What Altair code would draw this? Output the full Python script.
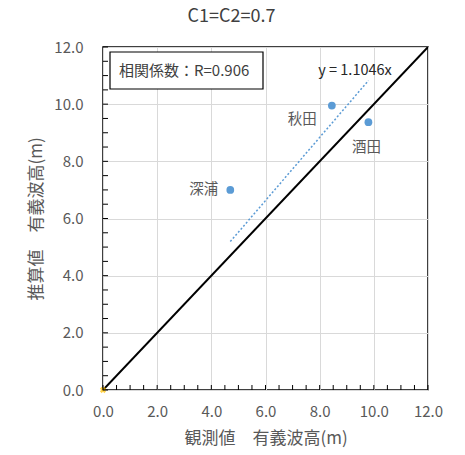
import altair as alt
import pandas as pd

# Observed vs. estimated significant wave height at three stations
stations = ["深浦", "秋田", "酒田"]
observed = [4.7, 8.45, 9.8]
estimated = [7.0, 9.95, 9.37]

slope = 1.1046
r_text = "相関係数：R=0.906"
fit_text = "y = 1.1046x"

major_ticks = [0, 2, 4, 6, 8, 10, 12]
minor_ticks = [i * 0.5 for i in range(0, 25)]

FONT = "Noto Sans CJK JP"
GRAY = "#595959"
BLUE = "#5b9bd5"
W, H = 325, 343

pts = pd.DataFrame({"name": stations, "obs": observed, "est": estimated})
diag = pd.DataFrame({"obs": [0, 12], "est": [0, 12]})
trend = pd.DataFrame({"obs": [min(observed), max(observed)],
                      "est": [slope * min(observed), slope * max(observed)]})
ticks = pd.DataFrame({"v": minor_ticks})

xs = alt.Scale(domain=[0, 12], nice=False)
ys = alt.Scale(domain=[0, 12], nice=False)

x_axis = alt.Axis(values=major_ticks, format=".1f", title="観測値　有義波高(m)",
                  labelPadding=14, titlePadding=11, grid=True, ticks=False, domain=False,
                  labelFlush=False, labelOverlap=False)
y_axis = alt.Axis(values=major_ticks, format=".1f", title="推算値　有義波高(m)",
                  labelPadding=20, titlePadding=8, grid=True, ticks=False, domain=False,
                  labelFlush=False, labelOverlap=False)

base_x = alt.X("obs:Q", scale=xs, axis=x_axis)
base_y = alt.Y("est:Q", scale=ys, axis=y_axis)

diag_line = alt.Chart(diag).mark_line(color="black", strokeWidth=2, clip=True).encode(
    x=base_x, y=base_y)

trend_line = alt.Chart(trend).mark_line(color=BLUE, strokeWidth=1.5, strokeDash=[2, 2]).encode(
    x=alt.X("obs:Q", scale=xs), y=alt.Y("est:Q", scale=ys))

points = alt.Chart(pts).mark_circle(color=BLUE, size=60, opacity=1).encode(
    x=alt.X("obs:Q", scale=xs), y=alt.Y("est:Q", scale=ys))

origin = alt.Chart(pd.DataFrame({"obs": [0], "est": [0]})).mark_point(
    shape="cross", angle=45, color="#ffc000", size=40, filled=True, clip=False
).encode(x=alt.X("obs:Q", scale=xs), y=alt.Y("est:Q", scale=ys))

def station_label(name, dx, dy, align):
    return alt.Chart(pts).transform_filter(alt.datum.name == name).mark_text(
        font=FONT, fontSize=14.5, color=GRAY, align=align, baseline="middle", dx=dx, dy=dy
    ).encode(x=alt.X("obs:Q", scale=xs), y=alt.Y("est:Q", scale=ys), text="name:N")

labels = (station_label("深浦", -12, 0, "right")
          + station_label("秋田", -15, 14, "right")
          + station_label("酒田", -2, 26, "center"))

# inside tick marks along the bottom and left edges
x_minor = alt.Chart(ticks).mark_rule(color="black", strokeWidth=1).encode(
    x=alt.X("v:Q", scale=xs), y=alt.value(H), y2=alt.value(H - 5))
y_minor = alt.Chart(ticks).mark_rule(color="black", strokeWidth=1).encode(
    y=alt.Y("v:Q", scale=ys), x=alt.value(0), x2=alt.value(5))

box = alt.Chart(pd.DataFrame({"t": [r_text]})).mark_rect(
    fill="white", stroke="black", strokeWidth=1.2
).encode(x=alt.value(7), x2=alt.value(160), y=alt.value(5), y2=alt.value(42))
box_text = alt.Chart(pd.DataFrame({"t": [r_text]})).mark_text(
    font=FONT, fontSize=15, color="#404040", align="left", baseline="middle"
).encode(x=alt.value(16), y=alt.value(24), text="t:N")
fit_label = alt.Chart(pd.DataFrame({"t": [fit_text]})).mark_text(
    font=FONT, fontSize=14.5, color="#262626", align="center", baseline="middle"
).encode(x=alt.value(252), y=alt.value(24), text="t:N")

chart = alt.layer(
    diag_line, trend_line, points, origin, labels, x_minor, y_minor, box, box_text, fit_label
).properties(
    width=W, height=H,
    title=alt.Title("C1=C2=0.7", fontSize=18, font=FONT, color="#404040",
                    fontWeight="normal", anchor="middle", dx=-34, offset=14),
    autosize=alt.AutoSizeParams(type="none"),
    padding={"left": 103, "top": 47, "right": 37, "bottom": 65},
    background="white",
).configure_view(stroke="black", strokeWidth=1.5).configure_axis(
    labelFont=FONT, titleFont=FONT, labelFontSize=15, titleFontSize=17,
    labelColor=GRAY, titleColor=GRAY, titleFontWeight="normal",
    gridColor="#d9d9d9", gridWidth=1
)

chart.save("out.html", embed_options={"renderer": "svg", "actions": False})
